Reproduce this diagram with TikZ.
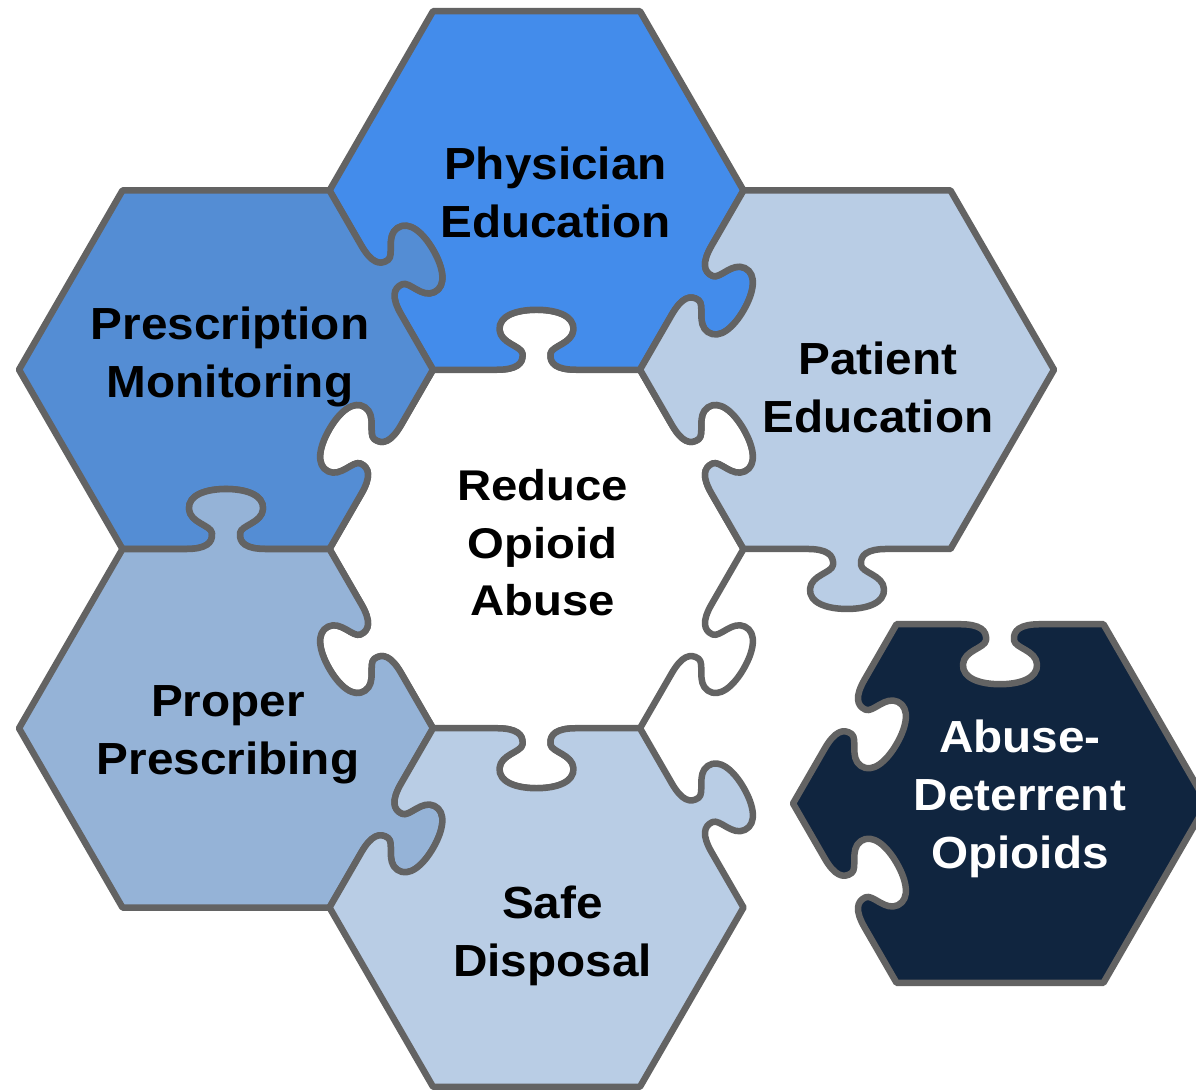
\documentclass[tikz,border=0pt]{standalone}
\usepackage{fontspec}
\setmainfont{Liberation Sans}
\newfontfamily\lblfont{Liberation Sans}[FakeStretch=1.06]
\newfontfamily\ctrfont{Liberation Sans}[FakeStretch=1.1]
\usetikzlibrary{positioning}

\definecolor{pzgray}{HTML}{636363}
\definecolor{physblue}{HTML}{438CEB}
\definecolor{prescblue}{HTML}{548DD4}
\definecolor{propblue}{HTML}{95B3D7}
\definecolor{paleblue}{HTML}{B9CDE5}
\definecolor{navyblue}{HTML}{10253F}

% hexagon radius and apothem (1 unit = 1pt)
\def\pzR{207}
\def\pzh{179.27}
\tikzset{pzk/.style={rotate=#1-90, shift={(0,\pzh)}}}

% knob (#2=1) or socket (#2=-1) on the edge with outward normal #1
\newcommand\knobseg[2]{%
 -- ([pzk=#1]40,0)
 .. controls ([pzk=#1]20,0) and ([pzk=#1]13,6*#2) .. ([pzk=#1]14,16*#2)
 .. controls ([pzk=#1]15,24*#2) and ([pzk=#1]36,26*#2) .. ([pzk=#1]37,40*#2)
 .. controls ([pzk=#1]38,54*#2) and ([pzk=#1]20,60*#2) .. ([pzk=#1]0,60*#2)
 .. controls ([pzk=#1]-20,60*#2) and ([pzk=#1]-38,54*#2) .. ([pzk=#1]-37,40*#2)
 .. controls ([pzk=#1]-36,26*#2) and ([pzk=#1]-15,24*#2) .. ([pzk=#1]-14,16*#2)
 .. controls ([pzk=#1]-13,6*#2) and ([pzk=#1]-20,0) .. ([pzk=#1]-40,0)
 -- (#1+30:\pzR)}
\newcommand\edgeseg[2]{\ifnum#2=0 -- (#1+30:\pzR)\else\knobseg{#1}{#2}\fi}
% one puzzle piece: centre, style, edges at 30,90,150,210,270,330
\newcommand\pzpiece[8]{%
 \path[#2, shift={#1}] (0:\pzR) \edgeseg{30}{#3}\edgeseg{90}{#4}\edgeseg{150}{#5}%
 \edgeseg{210}{#6}\edgeseg{270}{#7}\edgeseg{330}{#8} -- cycle;}

\begin{document}
\begin{tikzpicture}[x=1pt, y=1pt]
	\tikzstyle{piece} = [draw=pzgray, line width=6.5pt, line join=round]
	\tikzstyle{lbl} = [font=\lblfont\bfseries\fontsize{45}{58}\selectfont, align=center, anchor=base, inner sep=0pt]
	\useasboundingbox (0,0) rectangle (1196,1089);
	
	\coordinate (ctr) at (536.5,540);
	\coordinate (phys) at (536.5,898.5);
	\coordinate (presc) at (226,719.3);
	\coordinate (pat) at (847,719.3);
	\coordinate (prop) at (226,360.7);
	\coordinate (safe) at (536.5,181.5);
	\coordinate (abd) at (1000,285.5);
	
	\pzpiece{(ctr)}{piece, fill=white}{1}{1}{1}{1}{1}{1}
	\pzpiece{(phys)}{piece, fill=physblue}{0}{0}{0}{-1}{-1}{1}
	\pzpiece{(presc)}{piece, fill=prescblue}{1}{0}{0}{0}{-1}{-1}
	\pzpiece{(pat)}{piece, fill=paleblue}{0}{0}{-1}{-1}{1}{0}
	\pzpiece{(prop)}{piece, fill=propblue}{-1}{1}{0}{0}{0}{1}
	\pzpiece{(safe)}{piece, fill=paleblue}{1}{-1}{-1}{0}{0}{0}
	\pzpiece{(abd)}{piece, fill=navyblue}{0}{-1}{-1}{-1}{0}{0}
	
	\node[lbl] (physlbl) at ([xshift=19, yshift=-47]phys) {Physician\\Education};
	\node[lbl] (presclbl) at ([xshift=4, yshift=-28]presc) {Prescription\\Monitoring};
	\node[lbl] (patlbl) at ([xshift=31, yshift=-63]pat) {Patient\\Education};
	\node[lbl, font=\ctrfont\bfseries\fontsize{43}{57.5}\selectfont] (ctrlbl) at ([xshift=6, yshift=-67]ctr) {Reduce\\Opioid\\Abuse};
	\node[lbl] (proplbl) at ([xshift=2, yshift=-46]prop) {Proper\\Prescribing};
	\node[lbl] (safelbl) at ([xshift=16, yshift=-69]safe) {Safe\\Disposal};
	\node[lbl, text=white] (abdlbl) at ([xshift=20, yshift=-65]abd) {Abuse-\\Deterrent\\Opioids};
\end{tikzpicture}
\end{document}
